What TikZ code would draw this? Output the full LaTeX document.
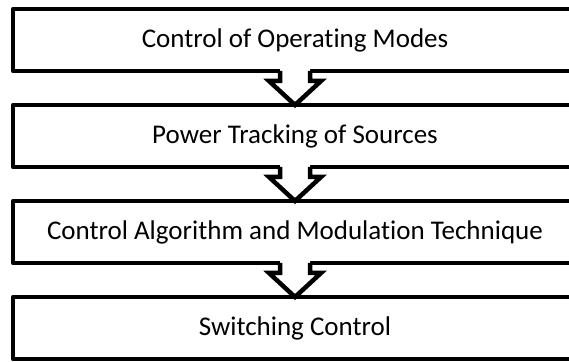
\documentclass[tikz,border=0pt]{standalone}
\usepackage{fontspec}
\setmainfont[Ligatures=NoCommon]{Carlito}
\usetikzlibrary{calc}

\begin{document}
\begin{tikzpicture}[x=1pt,y=1pt,line width=4.5pt,
    stage/.style={draw,line join=round,outer sep=0pt,minimum width=564pt,minimum height=62pt,
        font=\fontsize{27}{31}\selectfont},
    blockarrow/.style={line join=miter,miter limit=4}]
                        \useasboundingbox (0,0) rectangle (569,361);
                        \clip (0,0) rectangle (569,361);
                        \node[stage] (modes) at (295,321) {Control of Operating Modes};
                        \node[stage] (tracking) at (295,225) {Power Tracking of Sources};
                        \node[stage] (algorithm) at (295,129) {Control Algorithm and Modulation Technique};
                        \node[stage] (switching) at (295,33) {Switching Control};
                        % hollow arrows between the stages
                        \foreach \a/\b in {modes/tracking,tracking/algorithm,algorithm/switching}{
                            \fill[white] ($(\a.south)+(-15,4)$) -- ++(0,-14) -- ++(-11,0) -- (\b.north)
                                -- ($(\a.south)+(26,-10)$) -- ++(-11,0) -- ++(0,14) -- cycle;
                            \draw[blockarrow] ($(\a.south)+(-15,0)$) -- ++(0,-10) -- ++(-11,0) -- (\b.north)
                                -- ($(\a.south)+(26,-10)$) -- ++(-11,0) -- ++(0,10);
                        }
                    \end{tikzpicture}
\end{document}
